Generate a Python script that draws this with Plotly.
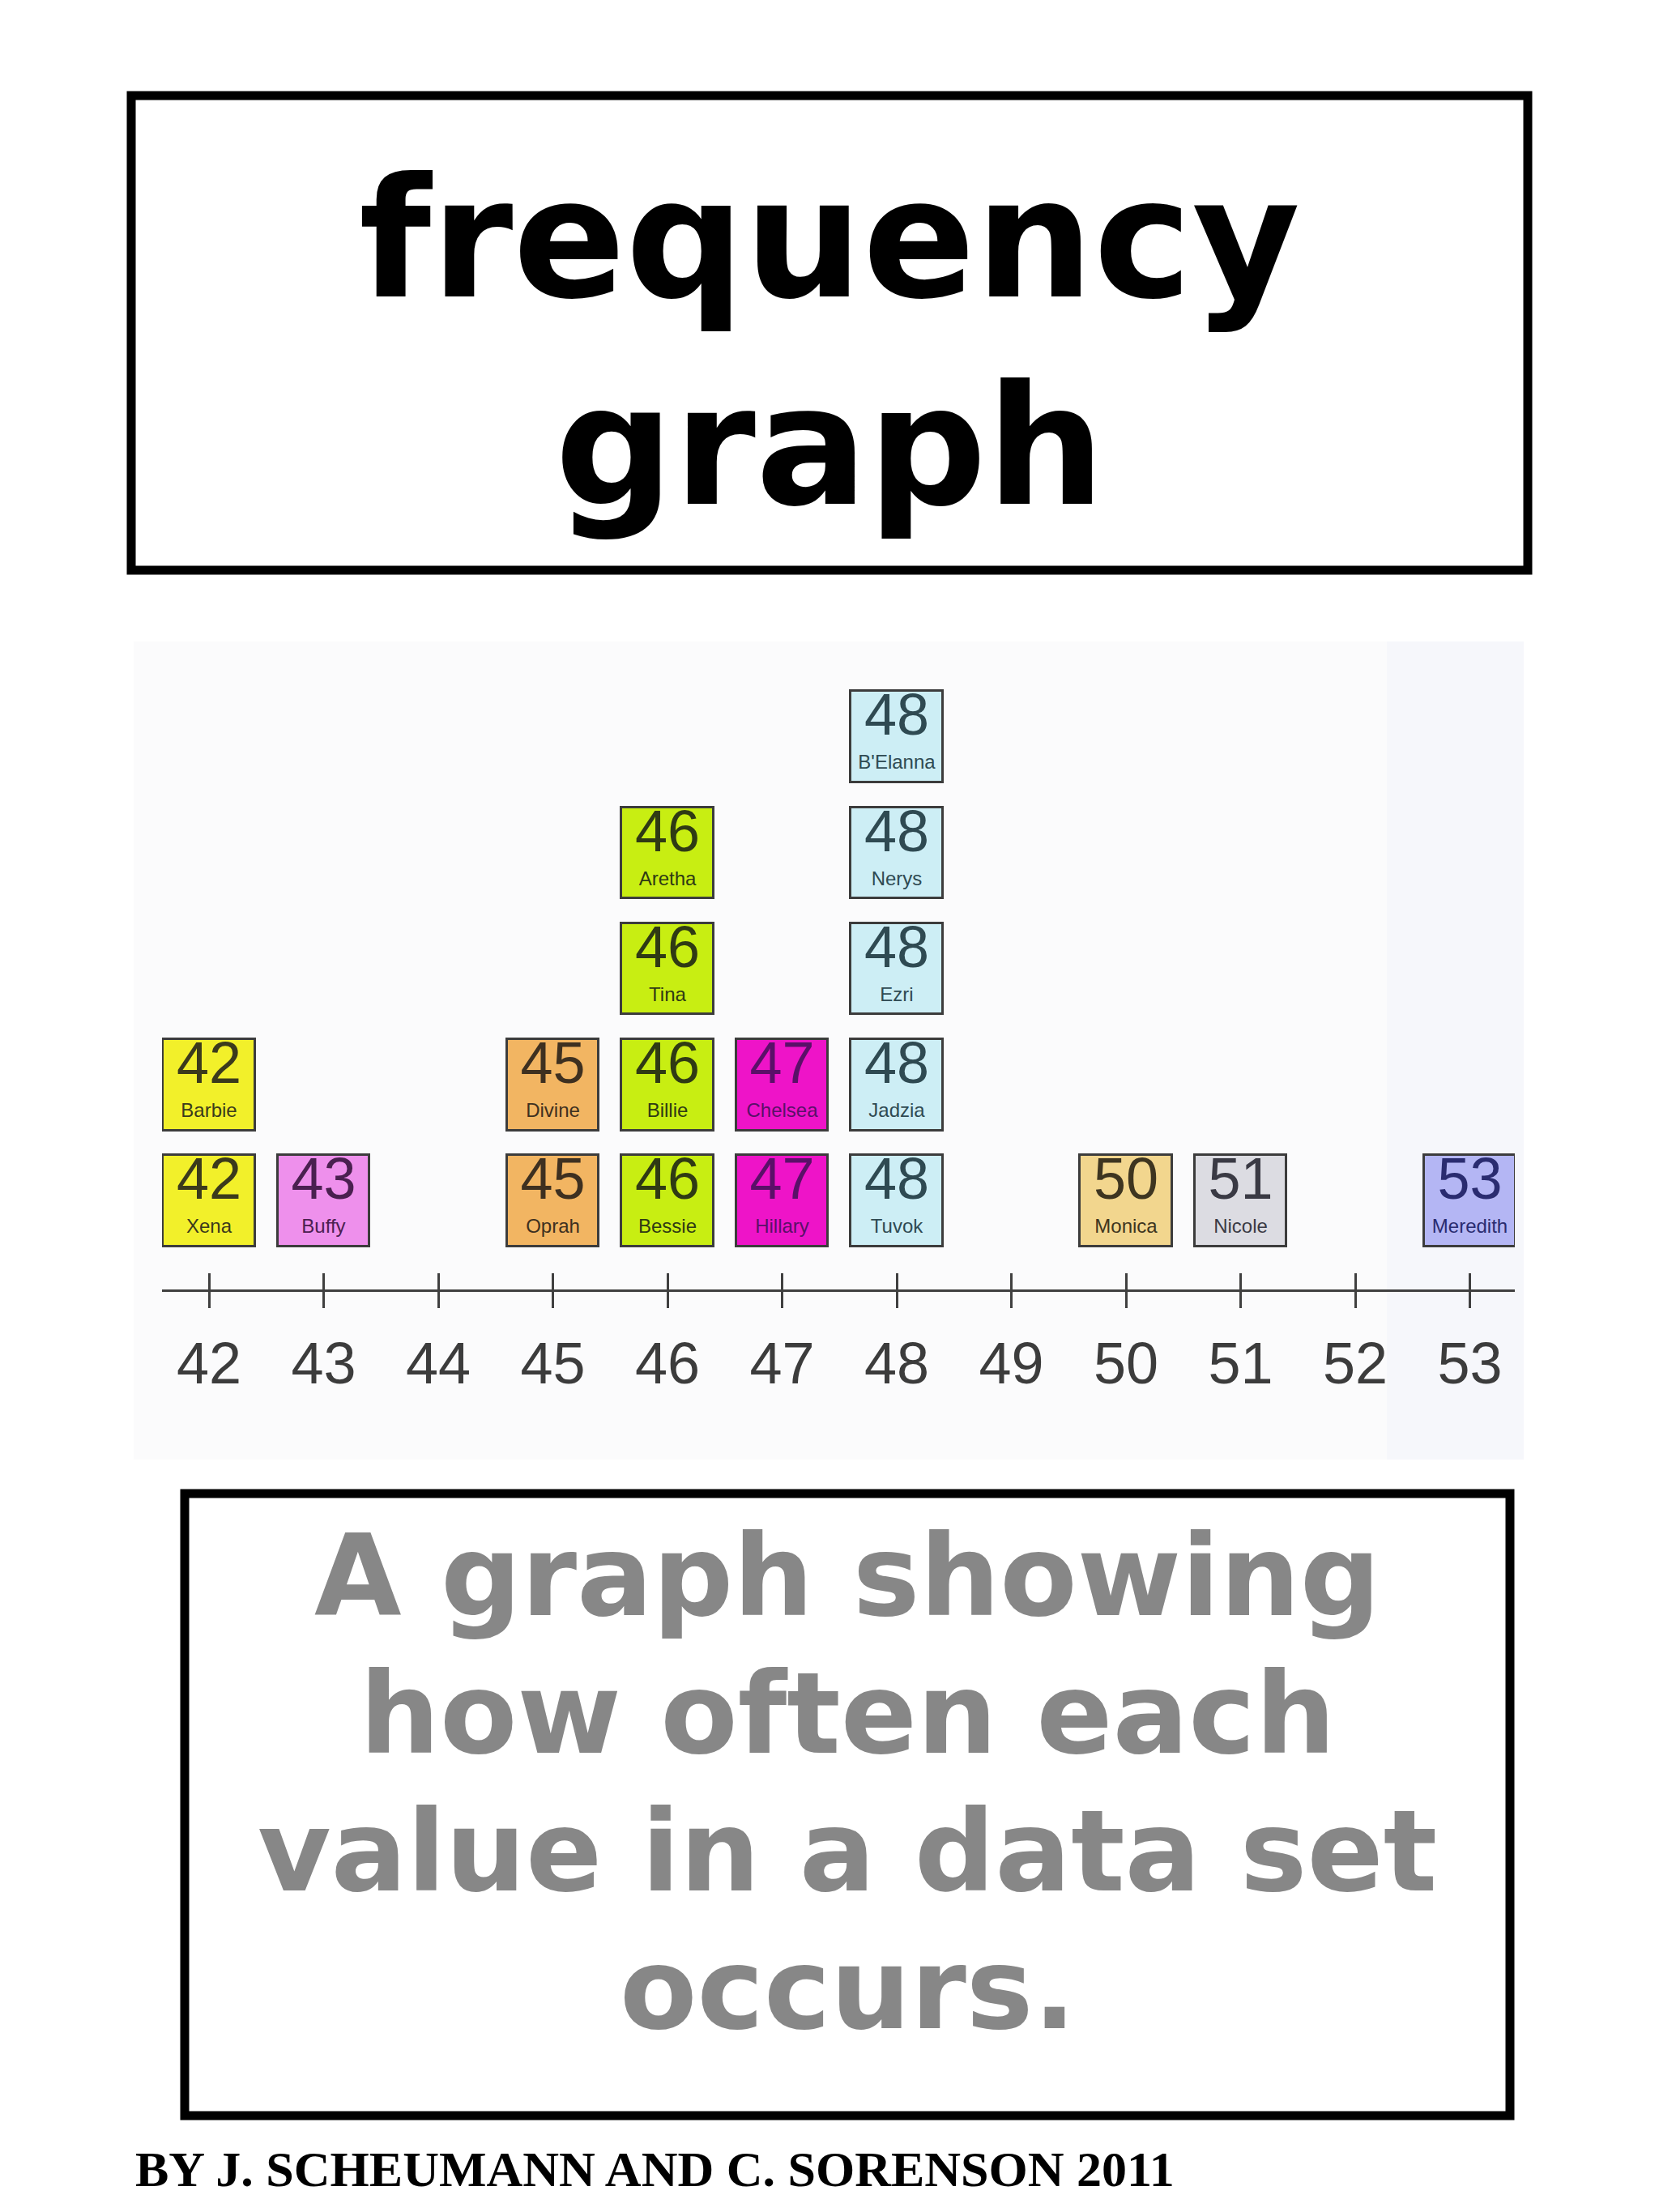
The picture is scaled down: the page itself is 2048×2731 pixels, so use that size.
import plotly.graph_objects as go

# ---------------- data ----------------
values = [42, 42, 43, 45, 45, 46, 46, 46, 46, 47, 47, 48, 48, 48, 48, 48, 50, 51, 53]
names = ["Xena", "Barbie", "Buffy", "Oprah", "Divine", "Bessie", "Billie", "Tina", "Aretha",
         "Hillary", "Chelsea", "Tuvok", "Jadzia", "Ezri", "Nerys", "B'Elanna",
         "Monica", "Nicole", "Meredith"]
tick_values = list(range(42, 54))
tick_labels = [str(v) for v in tick_values]

title_lines = ["frequency", "graph"]
definition_lines = ["A graph showing", "how often each", "value in a data set", "occurs."]
footer_text = "BY J. SCHEUMANN AND C. SORENSON 2011"

# ---------------- styles ----------------
fill_colors = {42: "#F2F02A", 43: "#EE90EC", 45: "#F2B562", 46: "#C8EE12", 47: "#EE14C8",
               48: "#CDEEF5", 50: "#F2D68E", 51: "#DCDCE2", 53: "#B4B6F4"}
text_colors = {42: "#3b3a1c", 43: "#4a2050", 45: "#3e3020", 46: "#2f3a14", 47: "#5a1068",
               48: "#2f4a52", 50: "#3e3520", 51: "#3a3a44", 53: "#2a2c70"}

# page is 2048x2731; browser body margin is 8px
OFF = 8
W, H = 2048 - 2 * OFF, 2731 - 2 * OFF
def px(x):
    return (x - OFF) / W
def py(y):
    return 1 - (y - OFF) / H

BOX_W = 0.80
BOX_H = 0.785
GAP = 0.37

# stack levels computed from the data
levels = []
seen = {}
for v in values:
    seen[v] = seen.get(v, 0) + 1
    levels.append(seen[v])

bases = [lv - 1 + GAP for lv in levels]

fig = go.Figure()

fig.add_trace(go.Bar(
    x=values, y=[BOX_H] * len(values), base=bases, width=BOX_W,
    marker=dict(color=[fill_colors[v] for v in values],
                line=dict(color="#3c3c3c", width=3)),
    hoverinfo="skip", showlegend=False,
))

fig.add_trace(go.Scatter(
    x=values, y=[b + BOX_H * 0.68 for b in bases], mode="text",
    text=[str(v) for v in values], textposition="middle center",
    textfont=dict(family="Liberation Sans, Arial, sans-serif", size=72,
                  color=[text_colors[v] for v in values]),
    hoverinfo="skip", showlegend=False,
))

fig.add_trace(go.Scatter(
    x=values, y=[b + BOX_H * 0.20 for b in bases], mode="text",
    text=names, textposition="middle center",
    textfont=dict(family="Liberation Sans, Arial, sans-serif", size=24,
                  color=[text_colors[v] for v in values]),
    hoverinfo="skip", showlegend=False, xaxis="x2",
))

x_left_px, x_right_px = 200, 1870
tick0_px, tick_step_px = 258, 141.5
xr = [42 - (tick0_px - x_left_px) / tick_step_px, 42 + (x_right_px - tick0_px) / tick_step_px]
axis_px, top_px = 1592, 800
unit_y = 143.3
yr = [0, (axis_px - top_px) / unit_y]

axis_common = dict(range=xr, domain=[px(x_left_px), px(x_right_px)], tickvals=tick_values,
                   ticklen=20, tickwidth=3, tickcolor="#404040", showgrid=False,
                   zeroline=False, fixedrange=True)

fig.update_layout(
    width=W, height=H,
    margin=dict(l=0, r=0, t=0, b=0),
    paper_bgcolor="white", plot_bgcolor="rgba(0,0,0,0)",
    bargap=0,
    xaxis=dict(**axis_common, ticktext=tick_labels, ticks="outside", showline=True,
               linecolor="#404040", linewidth=3, anchor="y",
               tickfont=dict(family="Liberation Sans, Arial, sans-serif", size=72, color="#3c3c3c"),
               ticklabelstandoff=7),
    xaxis2=dict(**axis_common, overlaying="x", anchor="y", side="bottom", ticks="inside",
                showticklabels=False, showline=False, matches="x"),
    yaxis=dict(range=yr, domain=[py(axis_px), py(top_px)], visible=False, fixedrange=True),
    showlegend=False,
)

shapes = [
    # scanned chart background
    dict(type="rect", xref="paper", yref="paper", x0=px(165), x1=px(1881), y0=py(1802), y1=py(792),
         fillcolor="#fbfbfc", line=dict(width=0), layer="below"),
    dict(type="rect", xref="paper", yref="paper", x0=px(1712), x1=px(1881), y0=py(1802), y1=py(792),
         fillcolor="#f6f7fb", line=dict(width=0), layer="below"),
    # title box
    dict(type="rect", xref="paper", yref="paper", x0=px(162), x1=px(1886), y0=py(704), y1=py(118),
         line=dict(color="black", width=11), fillcolor="rgba(0,0,0,0)", layer="below"),
    # definition box
    dict(type="rect", xref="paper", yref="paper", x0=px(228), x1=px(1864), y0=py(2612), y1=py(1844),
         line=dict(color="black", width=11), fillcolor="rgba(0,0,0,0)", layer="below"),
]
fig.update_layout(shapes=shapes)

annotations = []
title_font = dict(family="Comic Sans MS, DejaVu Sans, sans-serif", size=205, color="black", weight="bold")
for line, mid in zip(title_lines, [295, 551]):
    annotations.append(dict(text=line, xref="paper", yref="paper", x=px(1024), y=py(mid),
                            xanchor="center", yanchor="middle", showarrow=False, font=title_font))

def_font = dict(family="Comic Sans MS, DejaVu Sans, sans-serif", size=139, color="#878787", weight="bold")
for line, mid in zip(definition_lines, [1946, 2116, 2286, 2456]):
    annotations.append(dict(text=line, xref="paper", yref="paper", x=px(1046), y=py(mid),
                            xanchor="center", yanchor="middle", showarrow=False, font=def_font))

annotations.append(dict(text=footer_text, xref="paper", yref="paper", x=px(165), y=py(2678),
                        xanchor="left", yanchor="middle", showarrow=False,
                        font=dict(family="Liberation Serif, Times New Roman, serif", size=62,
                                  color="black", weight="bold")))
fig.update_layout(annotations=annotations)

fig.write_html("out.html")
